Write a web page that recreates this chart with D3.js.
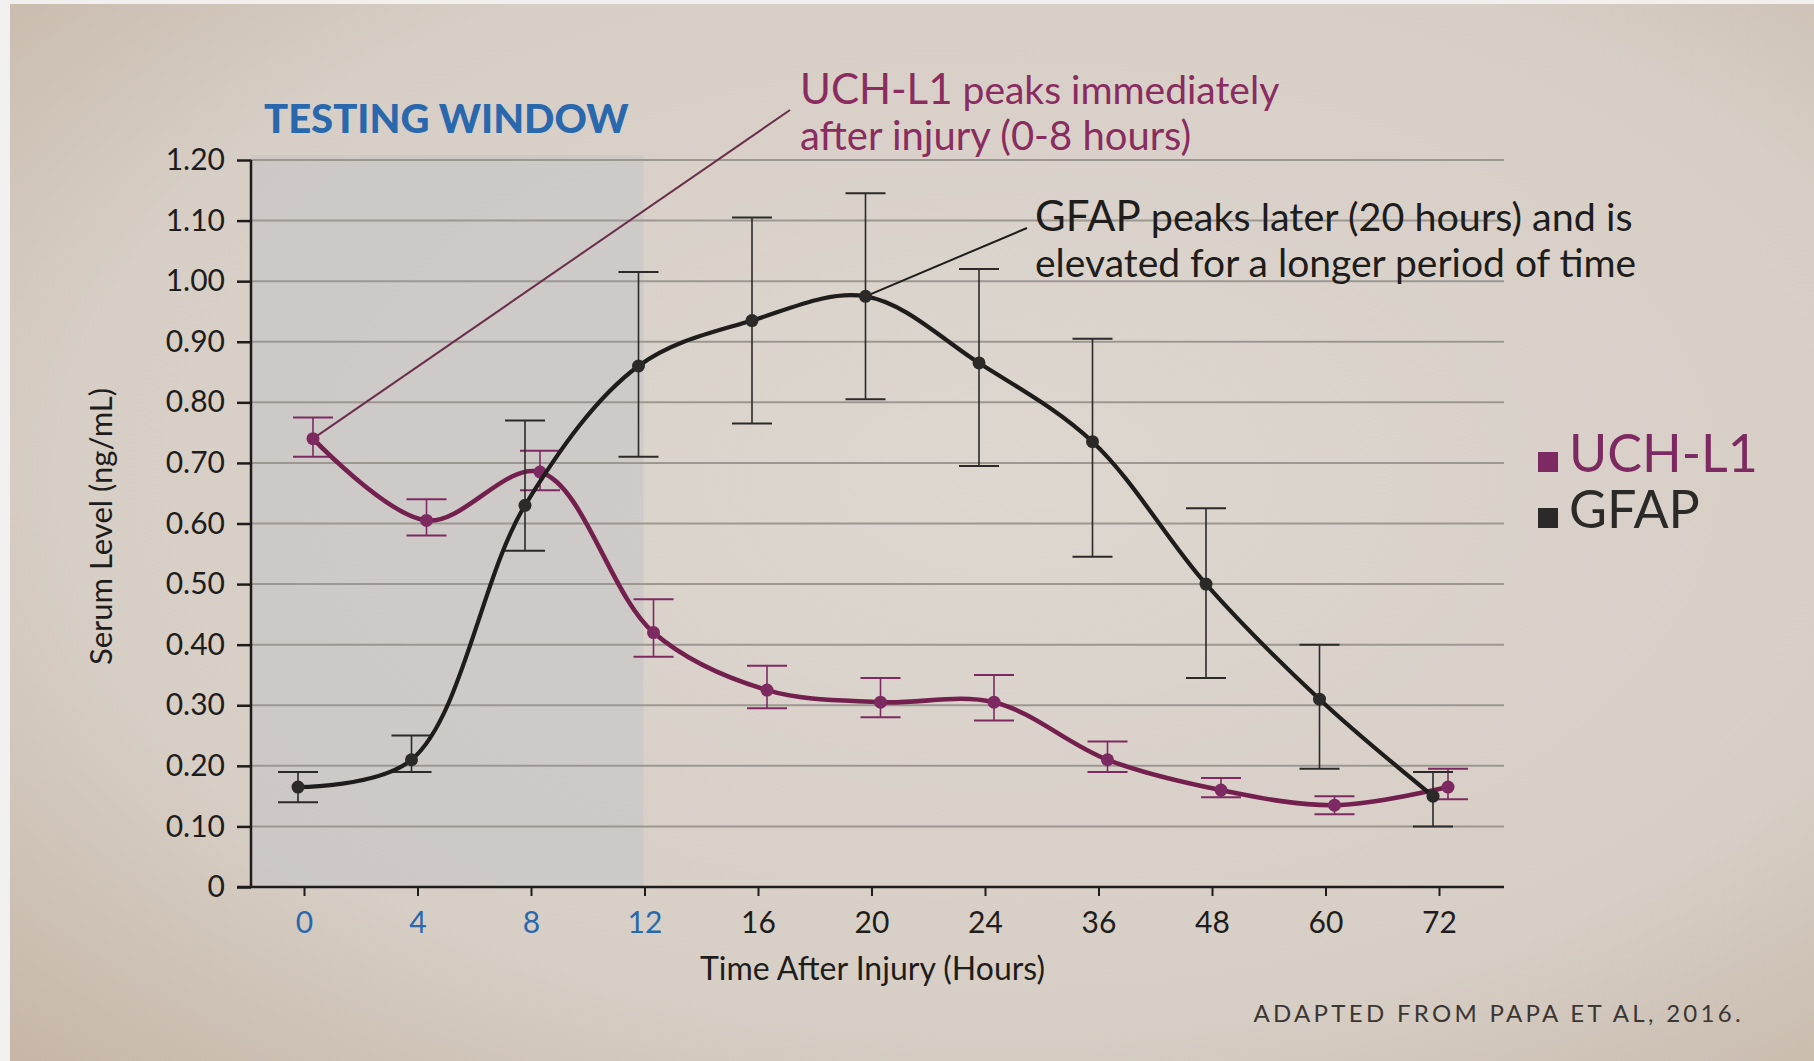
<!DOCTYPE html>
<html>
<head>
<meta charset="utf-8">
<script src="https://cdn.jsdelivr.net/npm/d3@7"></script>
<style>
  html, body { margin: 0; padding: 0; background: #f2f0ee; }
  svg { display: block; }
  text { font-family: Lato, "Open Sans", sans-serif; }
</style>
</head>
<body>
<svg id="chart" width="1814" height="1061"></svg>
<script>
// categories on the x axis (hours after injury)
const hours = ["0", "4", "8", "12", "16", "20", "24", "36", "48", "60", "72"];
const testingHours = ["0", "4", "8", "12"];

// GFAP mean and error bar bounds (ng/mL)
const gfapMean = [0.165, 0.21, 0.63, 0.86, 0.935, 0.975, 0.865, 0.735, 0.50, 0.31, 0.15];
const gfapLow  = [0.14, 0.19, 0.555, 0.71, 0.765, 0.805, 0.695, 0.545, 0.345, 0.195, 0.10];
const gfapHigh = [0.19, 0.25, 0.77, 1.015, 1.105, 1.145, 1.02, 0.905, 0.625, 0.40, 0.19];

// UCH-L1 mean and error bar bounds (ng/mL)
const uchMean = [0.74, 0.605, 0.685, 0.42, 0.325, 0.305, 0.305, 0.21, 0.16, 0.135, 0.165];
const uchLow  = [0.71, 0.58, 0.655, 0.38, 0.295, 0.28, 0.275, 0.19, 0.148, 0.12, 0.145];
const uchHigh = [0.775, 0.64, 0.72, 0.475, 0.365, 0.345, 0.35, 0.24, 0.18, 0.15, 0.195];

const yTicks = [0, 0.1, 0.2, 0.3, 0.4, 0.5, 0.6, 0.7, 0.8, 0.9, 1.0, 1.1, 1.2];

const svg = d3.select("#chart");

const dark = "#1f1d1c";
const blue = "#2a68ad";
const purpleMark = "#7d2a62";

// photo-like paper background
const defs = svg.append("defs");
const bg = defs.append("radialGradient").attr("id", "paper")
  .attr("cx", "55%").attr("cy", "45%").attr("r", "80%");
bg.append("stop").attr("offset", "0%").attr("stop-color", "#ddd7d0");
bg.append("stop").attr("offset", "65%").attr("stop-color", "#d7cec5");
bg.append("stop").attr("offset", "100%").attr("stop-color", "#c4b4a5");

svg.append("rect").attr("x", 10).attr("y", 4)
  .attr("width", 1804).attr("height", 1057).attr("fill", "url(#paper)");

const x = d3.scalePoint().domain(hours).range([304, 1439]);
const y = d3.scaleLinear().domain([0, 1.2]).range([887, 160]);
const left = 251, right = 1504;
const gfapDx = -6, uchDx = 9;

// testing window shading
svg.append("rect")
  .attr("x", left)
  .attr("y", y(1.2) - 5)
  .attr("width", x(testingHours[testingHours.length - 1]) - 1 - left)
  .attr("height", y(0) - y(1.2) + 5)
  .attr("fill", "#c6c4c6")
  .attr("opacity", 0.6);

// gridlines
svg.append("g").selectAll("line")
  .data(yTicks.filter(d => d > 0))
  .join("line")
  .attr("x1", left).attr("x2", right)
  .attr("y1", d => y(d)).attr("y2", d => y(d))
  .attr("stroke", "#9d9792").attr("stroke-width", 2);

// y axis
const yAxis = svg.append("g")
  .attr("transform", `translate(${left},0)`)
  .call(d3.axisLeft(y).tickValues(yTicks).tickSize(14).tickPadding(12)
    .tickFormat(d => d === 0 ? "0" : d3.format(".2f")(d)));
yAxis.select(".domain").attr("d", `M0,${y(1.2)}V${y(0)}`).attr("stroke", dark).attr("stroke-width", 2.5);
yAxis.selectAll(".tick line").attr("stroke", dark).attr("stroke-width", 2.5);
yAxis.selectAll(".tick text").attr("fill", dark).attr("font-size", 30);

// x axis
const xAxis = svg.append("g")
  .attr("transform", `translate(0,${y(0)})`)
  .call(d3.axisBottom(x).tickSize(9).tickPadding(16));
xAxis.select(".domain").attr("d", `M${left - 14},0H${right}`).attr("stroke", dark).attr("stroke-width", 2.5);
xAxis.selectAll(".tick line").attr("stroke", dark).attr("stroke-width", 2);
xAxis.selectAll(".tick text")
  .attr("font-size", 30)
  .attr("fill", d => testingHours.includes(d) ? blue : dark);

// axis titles
svg.append("text")
  .attr("x", (left + right) / 2 - 5).attr("y", 980)
  .attr("text-anchor", "middle").attr("font-size", 32).attr("fill", dark)
  .text("Time After Injury (Hours)");
svg.append("text")
  .attr("transform", `translate(112,${(y(0) + y(1.2)) / 2 + 3}) rotate(-90)`)
  .attr("text-anchor", "middle").attr("font-size", 31).attr("fill", dark)
  .text("Serum Level (ng/mL)");

svg.append("text")
  .attr("x", 264).attr("y", 133)
  .attr("font-size", 40).attr("font-weight", 900).attr("fill", blue)
  .text("TESTING WINDOW");

function drawSeries(mean, low, high, dx, color, lineColor, width) {
  const rows = hours.map((h, i) => ({h, v: mean[i], lo: low[i], hi: high[i]}));
  const g = svg.append("g");
  g.selectAll("line.err").data(rows).join("line").attr("class", "err")
    .attr("x1", d => x(d.h) + dx).attr("x2", d => x(d.h) + dx)
    .attr("y1", d => y(d.lo)).attr("y2", d => y(d.hi))
    .attr("stroke", color).attr("stroke-width", 1.6);
  ["lo", "hi"].forEach(k => {
    g.selectAll(`line.cap-${k}`).data(rows).join("line").attr("class", `cap-${k}`)
      .attr("x1", d => x(d.h) + dx - 20).attr("x2", d => x(d.h) + dx + 20)
      .attr("y1", d => y(d[k])).attr("y2", d => y(d[k]))
      .attr("stroke", color).attr("stroke-width", 2);
  });
  const line = d3.line()
    .x(d => x(d.h) + dx).y(d => y(d.v))
    .curve(d3.curveCatmullRom.alpha(0.5));
  g.append("path").datum(rows).attr("d", line)
    .attr("fill", "none").attr("stroke", lineColor).attr("stroke-width", width);
  g.selectAll("circle").data(rows).join("circle")
    .attr("cx", d => x(d.h) + dx).attr("cy", d => y(d.v)).attr("r", 6.5)
    .attr("fill", color);
}

// annotation leader lines sit under the series
svg.append("line")
  .attr("x1", 790).attr("y1", 110)
  .attr("x2", x("0") + uchDx).attr("y2", y(uchMean[0]))
  .attr("stroke", "#6a2e4c").attr("stroke-width", 2);
svg.append("line")
  .attr("x1", 1027).attr("y1", 228)
  .attr("x2", x("20") + gfapDx).attr("y2", y(gfapMean[5]))
  .attr("stroke", dark).attr("stroke-width", 2);

drawSeries(uchMean, uchLow, uchHigh, uchDx, purpleMark, "#74204f", 4.6);
drawSeries(gfapMean, gfapLow, gfapHigh, gfapDx, "#2b2a29", dark, 4.2);

// annotations
const a1 = svg.append("text").attr("x", 800).attr("y", 104).attr("fill", "#8a2c60");
a1.append("tspan").attr("font-size", 42).text("UCH-L1");
a1.append("tspan").attr("font-size", 39).text(" peaks immediately");
svg.append("text").attr("x", 800).attr("y", 150).attr("fill", "#8a2c60")
  .attr("font-size", 40).text("after injury (0-8 hours)");

const a2 = svg.append("text").attr("x", 1035).attr("y", 231).attr("fill", dark);
a2.append("tspan").attr("font-size", 42).text("GFAP");
a2.append("tspan").attr("font-size", 39.5).text(" peaks later (20 hours) and is");
svg.append("text").attr("x", 1035).attr("y", 277).attr("fill", dark)
  .attr("font-size", 39).text("elevated for a longer period of time");

// legend
const legend = [{name: "UCH-L1", color: purpleMark}, {name: "GFAP", color: "#2b2a29"}];
const lg = svg.append("g").selectAll("g").data(legend).join("g")
  .attr("transform", (d, i) => `translate(1538,${472 + i * 56})`);
lg.append("rect").attr("x", 0).attr("y", -20).attr("width", 20).attr("height", 20)
  .attr("fill", d => d.color);
lg.append("text").attr("x", 31).attr("y", 0).attr("font-size", 52)
  .attr("fill", d => d.color).text(d => d.name);

svg.append("text")
  .attr("x", 1744).attr("y", 1022).attr("text-anchor", "end")
  .attr("font-size", 24).attr("letter-spacing", 3.3).attr("fill", "#3a3634")
  .text("ADAPTED FROM PAPA ET AL, 2016.");
</script>
</body>
</html>
